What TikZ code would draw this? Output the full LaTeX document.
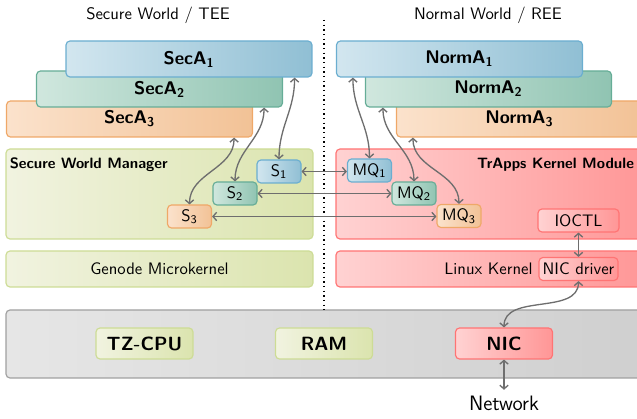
\documentclass[tikz,border=0pt]{standalone}
\usepackage{fontspec}
\renewcommand{\familydefault}{\sfdefault}
\usetikzlibrary{positioning,arrows.meta}

\definecolor{blueL}{HTML}{D2E6EF}
\definecolor{blueR}{HTML}{90BFD4}
\definecolor{blueD}{HTML}{6BAED0}
\definecolor{tealL}{HTML}{D0E7DE}
\definecolor{tealR}{HTML}{90C4B2}
\definecolor{tealD}{HTML}{66AD97}
\definecolor{orangeL}{HTML}{FBE2CC}
\definecolor{orangeR}{HTML}{F2C296}
\definecolor{orangeD}{HTML}{EFA868}
\definecolor{greenL}{HTML}{F1F3E0}
\definecolor{greenR}{HTML}{DBE4AE}
\definecolor{greenD}{HTML}{CDDC95}
\definecolor{redL}{HTML}{FFD2D2}
\definecolor{redR}{HTML}{FF9696}
\definecolor{redD}{HTML}{FF7474}
\definecolor{grayL}{HTML}{E6E6E6}
\definecolor{grayR}{HTML}{CFCFCF}
\definecolor{grayD}{HTML}{A0A0A0}
\definecolor{linkgray}{HTML}{6E6E6E}

\tikzset{
    bluefill/.style={draw=blueD,left color=blueL,right color=blueR},
    tealfill/.style={draw=tealD,left color=tealL,right color=tealR},
    orangefill/.style={draw=orangeD,left color=orangeL,right color=orangeR},
    greenfill/.style={draw=greenD,left color=greenL,right color=greenR},
    redfill/.style={draw=redD,left color=redL,right color=redR},
    grayfill/.style={draw=grayD,left color=grayL,right color=grayR},
    box/.style={rectangle,rounded corners=2.4pt,line width=0.7pt},
    appbox/.style={box,minimum width=147.6pt,minimum height=21.6pt,
        font=\fontsize{11}{13}\selectfont\bfseries},
    layer/.style={box,minimum width=184.2pt,minimum height=54pt},
    chip/.style={box,minimum width=58.2pt,minimum height=18.6pt,
        font=\fontsize{11.5}{13}\selectfont\bfseries},
    smallbox/.style={box,minimum width=26.4pt,minimum height=13.8pt,inner sep=2pt},
    layerlabel/.style={inner sep=1pt,font=\small\bfseries},
    worldtitle/.style={font=\normalsize},
    link/.style={<->,>={Straight Barb[length=2.2pt,width=5pt]},draw=linkgray,line width=0.8pt},
    sepline/.style={dotted,line width=0.8pt}
}

\begin{document}
\begin{tikzpicture}[x=0.6pt,y=-0.6pt]
    \useasboundingbox (0,0) rectangle (637,419);
    \clip (0,0) rectangle (637,419);

    % worlds
    \node[worldtitle] (tee) at (158,15) {Secure World / TEE};
    \node[worldtitle] (ree) at (488,15) {Normal World / REE};

    % applications
    \node[appbox,orangefill] (secA3) at (129.5,119) {SecA\textsubscript{3}};
    \node[appbox,tealfill] (secA2) at (159.5,89) {SecA\textsubscript{2}};
    \node[appbox,bluefill] (secA1) at (189,59) {SecA\textsubscript{1}};
    \node[appbox,orangefill] (normA3) at (519.5,119) {NormA\textsubscript{3}};
    \node[appbox,tealfill] (normA2) at (488.5,89) {NormA\textsubscript{2}};
    \node[appbox,bluefill] (normA1) at (459.5,59) {NormA\textsubscript{1}};

    % system layers
    \node[layer,greenfill] (swm) at (159.5,194) {};
    \node[layerlabel,anchor=north west] at ([shift={(1.4pt,-4.4pt)}]swm.north west) {Secure World Manager};
    \node[layer,greenfill,minimum height=21.6pt] (genode) at (159.5,269) {Genode Microkernel};
    \node[layer,redfill,minimum width=187.2pt] (trapps) at (492,194) {};
    \node[layerlabel,anchor=north east] at ([shift={(-7.6pt,-4.4pt)}]trapps.north east) {TrApps Kernel Module};
    \node[layer,redfill,minimum width=187.2pt,minimum height=21.6pt] (linux) at (492,269) {};

    % hardware
    \node[box,grayfill,minimum width=387.6pt,minimum height=40.8pt] (hw) at (329,344) {};
    \node[chip,greenfill] (cpu) at (144.5,343.5) {TZ-CPU};
    \node[chip,greenfill] (ram) at (324,343.5) {RAM};
    \node[chip,redfill] (nic) at (504,343.5) {NIC};
    \node[font=\fontsize{12.5}{14}\selectfont] (net) at (504,403) {Network};

    % separator
    \coordinate (septop) at (324,20);
    \draw[sepline] (septop) -- (septop |- hw.north);

    % shared memory
    \node[smallbox,bluefill] (s1) at (279,171.5) {S\textsubscript{1}};
    \node[smallbox,tealfill] (s2) at (235,193.5) {S\textsubscript{2}};
    \node[smallbox,orangefill] (s3) at (189.5,216.5) {S\textsubscript{3}};
    \node[smallbox,bluefill] (mq1) at (369.5,170.5) {MQ\textsubscript{1}};
    \node[smallbox,tealfill] (mq2) at (414,193.5) {MQ\textsubscript{2}};
    \node[smallbox,orangefill] (mq3) at (459,216) {MQ\textsubscript{3}};
    \node[smallbox,redfill,minimum width=48.6pt] (ioctl) at (578.5,220.5) {IOCTL};
    \node[smallbox,redfill,minimum width=47.4pt] (nicdrv) at (578.5,269) {NIC driver};
    \node[left=0pt of nicdrv] (lk) {Linux Kernel};

    % links
    \draw[link] (s3.north) to[out=90,in=-90] ([xshift=-11.4pt]secA3.south east);
    \draw[link] (s2.north) to[out=90,in=-90] ([xshift=-11.4pt]secA2.south east);
    \draw[link] (s1.north) to[out=90,in=-90] ([xshift=-10.8pt]secA1.south east);
    \draw[link] (mq1.north) to[out=90,in=-90] ([xshift=10.2pt]normA1.south west);
    \draw[link] (mq2.north) to[out=90,in=-90] ([xshift=10.8pt]normA2.south west);
    \draw[link] (mq3.north) to[out=90,in=-90] ([xshift=10.2pt]normA3.south west);
    \draw[link] (s1.east) -- (s1.east -| mq1.west);
    \draw[link] (s2.east) -- (s2.east -| mq2.west);
    \draw[link] (s3.east) -- (s3.east -| mq3.west);
    \draw[link] (ioctl.south) -- (nicdrv.north);
    \draw[link] (nicdrv.south) to[out=-90,in=90] (nic.north);
    \draw[link] (nic.south) -- (net.north);
\end{tikzpicture}
\end{document}
